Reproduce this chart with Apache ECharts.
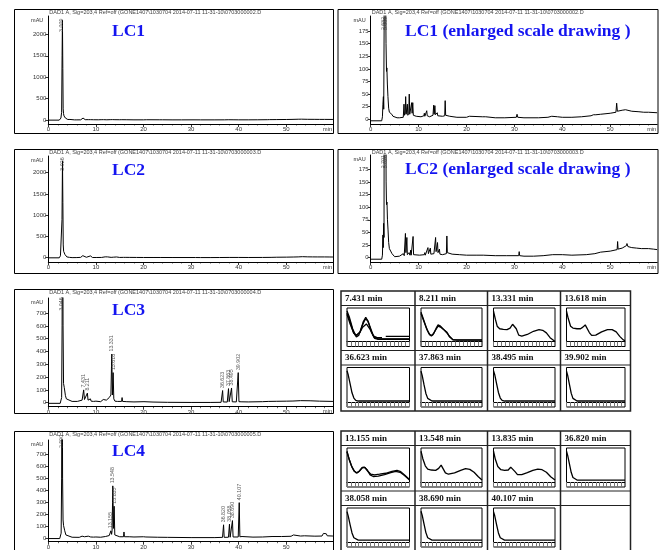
<!DOCTYPE html>
<html><head><meta charset="utf-8">
<script src="https://cdn.jsdelivr.net/npm/echarts@6/dist/echarts.min.js"></script>
<style>html,body{margin:0;padding:0;background:#fff}#c{width:663px;height:550px}</style>
</head><body><div id="c"></div>
<script>
// ---------- axis ticks ----------
const xTicks = [0,10,20,30,40,50];
const xMinorTicks = [2,4,6,8,12,14,16,18,22,24,26,28,32,34,36,38,42,44,46,48,52,54,56,58];
const yTicksFull = [0,500,1000,1500,2000];
const yTicksZoom = [0,25,50,75,100,125,150,175];
const yTicksLC = [0,100,200,300,400,500,600,700];
const thumbTicks = [0,6.25,12.5,18.75,25,31.25,37.5,43.75,50,56.25,62.5,68.75,75,81.25,87.5,93.75,100];
const xMax = 59.8;

// ---------- chromatograms (time min, mAU) ----------
const lc1 = [[0,-3],[2.3,-3],[2.45,5],[2.55,30],[2.65,45],[2.72,20],[2.8,180],[2.9,1500],[2.97,2330],[3.05,1200],[3.12,260],[3.2,150],[3.3,95],[3.38,102],[3.48,70],[3.6,45],[3.75,22],[3.9,14],[4.1,12],[4.4,10],[4.55,13],[4.65,6],[4.85,9],[4.95,4],[5.5,3],[6.0,3],[6.1,6],[6.2,2],[6.8,4],[6.95,30],[7.05,8],[7.2,12],[7.3,45],[7.4,10],[7.55,10],[7.65,30],[7.75,8],[7.95,12],[8.05,50],[8.15,10],[8.4,8],[8.55,33],[8.65,12],[8.78,33],[8.9,8],[9.5,6],[10.5,5],[11.1,7],[11.2,12],[11.3,6],[11.6,8],[11.7,17],[11.8,7],[12.3,5],[12.4,7],[12.5,5],[13.0,8],[13.15,28],[13.25,10],[13.4,27],[13.5,9],[13.8,8],[13.9,13],[14.0,7],[15.0,6],[15.45,7],[15.55,37],[15.65,8],[16.5,6],[16.6,8],[16.7,5],[18,4],[20,4],[20.6,6],[21,4],[23.3,5],[23.4,7],[23.5,4],[24,5],[26,3],[28,3],[30.4,4],[30.55,10],[30.7,4],[32,3],[35,3],[37,4],[37.8,6],[38,4],[39,5],[40,4],[42,4],[44,5],[46,7],[46.5,9],[47,9],[48,10],[50,12],[51.2,14],[51.35,32],[51.5,16],[52.5,18],[53.2,19],[54.5,16],[56,15],[57,14],[58,14],[59.8,13]];
const lc2 = [[0,-3],[2.3,-3],[2.45,5],[2.55,45],[2.62,20],[2.7,68],[2.78,40],[2.88,900],[2.98,2280],[3.06,1300],[3.14,300],[3.22,150],[3.3,105],[3.4,110],[3.5,75],[3.62,55],[3.75,30],[3.9,18],[4.1,15],[4.3,15],[4.45,8],[4.6,5],[5.0,2],[6.0,3],[6.15,6],[6.3,3],[6.8,8],[7.0,4],[7.25,48],[7.35,10],[7.55,40],[7.65,6],[8.0,10],[8.2,5],[8.35,15],[8.45,5],[8.85,42],[8.95,6],[9.3,4],[10.2,5],[11.2,6],[11.3,10],[11.4,5],[11.95,20],[12.05,8],[12.45,19],[12.55,7],[13.2,8],[13.55,40],[13.65,12],[13.95,30],[14.05,10],[14.35,17],[14.45,7],[15.0,6],[15.8,8],[15.9,43],[16.0,10],[16.3,8],[17,7],[18.5,6],[20,5],[22,5],[23.5,5],[23.6,8],[23.7,4],[26,4],[28.3,4],[28.4,7],[28.5,3],[30.9,4],[31.0,12],[31.1,4],[32,3],[34,3],[36,4],[38,6],[40,6],[42,5],[45,6],[46.8,8],[47,10],[48,11],[50,13],[51.45,16],[51.55,32],[51.65,17],[52.5,19],[53.4,24],[53.5,28],[53.7,22],[54.5,20],[55.5,19],[56.5,18],[58,18],[59,17],[59.8,16]];
const lc3 = [[0,-5],[2.5,-5],[2.65,5],[2.8,40],[2.9,600],[3.0,2000],[3.1,600],[3.2,150],[3.35,120],[3.45,110],[3.6,55],[3.8,30],[4.2,15],[5,10],[6.1,10],[6.25,15],[6.4,8],[7.1,20],[7.25,25],[7.43,100],[7.6,25],[7.9,15],[8.21,75],[8.35,20],[8.7,25],[8.85,30],[9.0,12],[9.5,10],[10,12],[11,8],[11.55,25],[11.7,12],[12.2,20],[12.5,15],[12.8,40],[13.0,50],[13.15,60],[13.33,380],[13.47,60],[13.62,235],[13.76,30],[14.0,12],[14.5,10],[15.4,10],[15.5,40],[15.6,10],[16.5,8],[18,6],[20.1,8],[20.3,20],[20.5,7],[22,5],[25,3],[30,2],[34,2],[36.3,3],[36.5,8],[36.62,95],[36.75,6],[37.6,5],[37.86,110],[38.0,8],[38.35,8],[38.5,115],[38.65,7],[39.5,6],[39.9,235],[40.05,8],[40.5,7],[42,6],[45,8],[46.2,10],[48,11],[50,12],[51.4,13],[51.5,26],[51.6,16],[53,16],[55,15],[57,12],[59.8,10]];
const lc4 = [[0,-5],[2.4,-5],[2.55,10],[2.7,40],[2.8,500],[2.9,2000],[3.0,500],[3.1,150],[3.2,105],[3.3,108],[3.45,60],[3.7,25],[4.0,15],[5,6],[6.5,5],[7.1,15],[7.2,30],[7.3,15],[7.5,30],[7.6,10],[8.0,10],[8.4,15],[8.5,8],[8.8,25],[8.9,8],[9.5,7],[10,8],[11,6],[12.0,12],[12.2,6],[12.8,20],[13.0,25],[13.15,60],[13.3,30],[13.4,60],[13.55,435],[13.7,80],[13.83,265],[13.97,25],[14.2,12],[15,10],[15.8,10],[15.9,50],[16.0,10],[17,10],[18,8],[20,10],[20.3,12],[20.5,8],[23,6],[25,5],[30,3],[35,3],[36.6,5],[36.82,110],[36.95,5],[37.85,6],[38.06,115],[38.2,6],[38.55,8],[38.69,145],[38.82,8],[39.9,8],[40.11,295],[40.25,10],[40.7,12],[41,8],[43,7],[45,8],[47,12],[49,12],[51,14],[51.4,14],[51.5,25],[51.6,16],[53,16],[53.8,18],[53.9,25],[54.0,16],[56,15],[57.5,16],[57.8,38],[58.2,40],[58.4,35],[58.6,18],[59.8,16]];

// peak labels [time, anchor mAU, text]
const lc1Labels = [[2.85,2000,'3.009']];
const lc1ZoomLabels = [[2.7,172,'2.682'],[3.05,172,'3.009']];
const lc2Labels = [[2.9,1990,'3.026']];
const lc2ZoomLabels = [[2.75,172,'2.701'],[3.1,172,'3.026']];
const lc3Labels = [[2.85,700,'3.046'],[7.43,100,'7.431'],[8.21,75,'8.211'],[13.33,380,'13.331'],[13.62,235,'13.618'],[36.62,95,'36.623'],[37.86,110,'37.863'],[38.5,115,'38.495'],[39.9,235,'39.902']];
const lc4Labels = [[2.8,730,'2.990'],[13.155,60,'13.155'],[13.548,435,'13.548'],[13.835,265,'13.835'],[36.82,110,'36.820'],[38.06,115,'38.058'],[38.69,145,'38.690'],[40.11,295,'40.107']];

// ---------- UV spectra thumbnails (relative wavelength 0-100, relative absorbance) ----------
const s7431a = [[0,96],[4,75],[9,40],[14,18],[17,15],[21,30],[26,62],[30,76],[34,62],[39,30],[44,10],[50,7],[100,7]];
const s7431b = [[0,90],[5,62],[10,30],[15,14],[19,20],[24,48],[29,70],[33,66],[38,40],[43,14],[50,8],[100,8]];
const s7431c = [[0,85],[5,55],[11,25],[16,20],[21,30],[25,45],[31,55],[37,38],[42,18],[48,12],[56,12]];
const s7431d = [[62,16],[100,16]];
const s8211a = [[0,92],[4,70],[9,42],[13,24],[17,17],[21,26],[25,42],[28,52],[32,48],[37,38],[42,30],[46,18],[52,6],[60,4],[100,4]];
const s8211b = [[0,88],[5,62],[10,36],[15,20],[19,20],[24,36],[28,48],[33,44],[38,36],[43,26],[47,14],[53,5],[100,5]];
const s13331 = [[0,95],[3,70],[6,48],[10,40],[16,38],[22,37],[27,42],[31,54],[34,56],[37,40],[41,20],[46,17],[55,22],[65,32],[74,37],[80,35],[86,27],[92,12],[98,3],[100,2]];
const s13618 = [[0,95],[3,72],[7,48],[11,42],[18,40],[24,40],[28,45],[32,52],[35,48],[39,28],[43,19],[50,20],[60,30],[70,37],[78,37],[85,30],[91,16],[97,5],[100,3]];
const s36623 = [[0,95],[2,82],[5,55],[8,28],[11,12],[14,5],[18,3],[100,3]];
const s37863 = [[0,94],[2,80],[5,52],[8,26],[11,11],[14,5],[18,3],[100,3]];
const s38495 = [[0,95],[2,83],[5,56],[8,29],[11,12],[14,5],[18,3],[100,3]];
const s39902 = [[0,94],[2,81],[5,54],[8,27],[11,11],[14,5],[18,3],[100,3]];
const s13155a = [[0,95],[3,72],[7,50],[11,35],[15,28],[19,32],[24,44],[28,46],[32,38],[37,22],[42,17],[50,18],[60,23],[70,29],[78,33],[85,30],[92,20],[100,6]];
const s13155b = [[0,93],[4,68],[8,46],[12,33],[16,28],[20,34],[25,45],[29,44],[33,34],[38,24],[44,22],[52,24],[62,27],[72,33],[80,36],[86,32],[93,20],[100,8]];
const s13548 = [[0,95],[3,72],[7,50],[11,40],[17,37],[24,36],[29,42],[33,52],[36,46],[40,28],[45,24],[55,28],[65,36],[73,41],[80,39],[87,30],[94,16],[100,6]];
const s13835 = [[0,95],[3,70],[7,48],[12,38],[18,36],[24,37],[28,46],[31,47],[35,32],[39,23],[46,23],[55,29],[64,36],[72,40],[79,38],[86,30],[93,16],[100,6]];
const s36820 = [[0,95],[2,82],[5,56],[8,30],[11,14],[14,8],[18,6],[100,6]];
const s38058 = [[0,94],[2,80],[5,53],[8,28],[11,13],[14,7],[18,6],[100,6]];
const s38690 = [[0,95],[2,82],[5,55],[8,29],[11,13],[14,7],[18,6],[100,6]];
const s40107 = [[0,94],[2,81],[5,54],[8,28],[11,13],[14,7],[18,6],[100,6]];

const lc3SpecTimes = ['7.431 min','8.211 min','13.331 min','13.618 min','36.623 min','37.863 min','38.495 min','39.902 min'];
const lc3SpecCurves = [[s7431a,s7431b,s7431c,s7431d],[s8211a,s8211b],[s13331],[s13618],[s36623],[s37863],[s38495],[s39902]];
const lc4SpecTimes = ['13.155 min','13.548 min','13.835 min','36.820 min','38.058 min','38.690 min','40.107 min'];
const lc4SpecCurves = [[s13155a,s13155b],[s13548],[s13835],[s36820],[s38058],[s38690],[s40107]];

// ---------- layout ----------
const fileBase = 'DAD1 A, Sig=203,4 Ref=off (GONE1407\\1030704 2014-07-11 11-31-10\\';
const panels = [
  {data:lc1, labels:lc1Labels, x0:48.3, px10:47.6, top:16, bottom:124, zeroY:120, ppu:21.4/500, yTicks:yTicksFull, frame:[14,9,333,133], file:'0703000002.D', big:'LC1', bigX:112, bigY:31},
  {data:lc1, labels:lc1ZoomLabels, x0:370.7, px10:47.9, top:16, bottom:124, zeroY:119.3, ppu:12.6/25, yTicks:yTicksZoom, frame:[337.5,9,657.5,133], file:'0703000002.D', big:'LC1 (enlarged scale drawing )', bigX:405, bigY:31},
  {data:lc2, labels:lc2Labels, x0:48.3, px10:47.6, top:156, bottom:262, zeroY:257.7, ppu:21.25/500, yTicks:yTicksFull, frame:[14,149,333,273], file:'0703000003.D', big:'LC2', bigX:112, bigY:170},
  {data:lc2, labels:lc2ZoomLabels, x0:370.7, px10:47.9, top:155, bottom:262, zeroY:257.7, ppu:12.63/25, yTicks:yTicksZoom, frame:[337.5,149,657.5,273], file:'0703000003.D', big:'LC2 (enlarged scale drawing )', bigX:405, bigY:169.5},
  {data:lc3, labels:lc3Labels, x0:48.3, px10:47.6, top:298, bottom:406.7, zeroY:402.7, ppu:12.8/100, yTicks:yTicksLC, frame:[14,289,333,413], file:'0703000004.D', big:'LC3', bigX:112, bigY:310},
  {data:lc4, labels:lc4Labels, x0:48.3, px10:47.6, top:440, bottom:548.7, zeroY:544.7, ppu:12.8/100, yTicks:yTicksLC, frame:[14,431,333,560], file:'0703000005.D', big:'LC4', bigX:112, bigY:451}
];
const tableCols = [341, 415, 487.5, 560.5, 630.5];
const tables = [
  {rows:[291,350.5,411], times:lc3SpecTimes, curves:lc3SpecCurves},
  {rows:[431,491,551], times:lc4SpecTimes, curves:lc4SpecCurves}
];

const option = {animation:false, backgroundColor:'#fff', grid:[], xAxis:[], yAxis:[], series:[], graphic:{elements:[]}};
const G = option.graphic.elements;
function addText(text, x, y, font, fill, align, valign){
  G.push({type:'text', silent:true, z:5, style:{text, x, y, font, fill, align:align||'left', verticalAlign:valign||'middle', textAlign:align||'left', textVerticalAlign:valign||'middle'}});
}
function addRect(x,y,w,h,lw,stroke){
  G.push({type:'rect', silent:true, shape:{x,y,width:w,height:h}, style:{fill:'none', stroke, lineWidth:lw}});
}
function addLine(x1,y1,x2,y2,lw,stroke){
  G.push({type:'line', silent:true, shape:{x1,y1,x2,y2}, style:{stroke, lineWidth:lw}});
}
const plain = v => String(v);

const smallFont = '5.5px "Liberation Sans", Arial, sans-serif';
panels.forEach(p => {
  const gi = option.grid.length;
  const width = p.px10 * xMax / 10;
  const ymin = -(p.bottom - p.zeroY) / p.ppu;
  const ymax = (p.zeroY - p.top) / p.ppu;
  option.grid.push({left:p.x0, top:p.top, width, height:p.bottom - p.top, show:false});
  const xi = option.xAxis.length;
  option.xAxis.push({type:'value', gridIndex:gi, min:0, max:xMax, position:'bottom',
    axisLine:{show:true, onZero:false, lineStyle:{color:'#000', width:1}},
    axisTick:{show:true, length:3, customValues:xTicks, lineStyle:{color:'#000', width:0.8}},
    axisLabel:{show:true, customValues:xTicks, formatter:plain, fontSize:6, color:'#333', margin:2.3, fontFamily:'Liberation Sans'},
    splitLine:{show:false}});
  option.xAxis.push({type:'value', gridIndex:gi, min:0, max:xMax, position:'bottom',
    axisLine:{show:false, onZero:false},
    axisTick:{show:true, length:1.5, customValues:xMinorTicks, lineStyle:{color:'#000', width:0.6}},
    axisLabel:{show:false}, splitLine:{show:false}});
  const yi = option.yAxis.length;
  option.yAxis.push({type:'value', gridIndex:gi, min:ymin, max:ymax, position:'left',
    axisLine:{show:true, onZero:false, lineStyle:{color:'#000', width:1}},
    axisTick:{show:true, length:3, customValues:p.yTicks, lineStyle:{color:'#000', width:0.8}},
    axisLabel:{show:true, customValues:p.yTicks, formatter:plain, fontSize:6, color:'#333', margin:2, fontFamily:'Liberation Sans'},
    splitLine:{show:false}});
  option.series.push({type:'line', xAxisIndex:xi, yAxisIndex:yi, data:p.data, showSymbol:false, symbol:'none',
    lineStyle:{color:'#000', width:1}, clip:true, silent:true, z:3});
  option.series.push({type:'scatter', xAxisIndex:xi, yAxisIndex:yi, symbolSize:1, itemStyle:{color:'rgba(0,0,0,0)'}, silent:true, clip:false, z:4,
    data:p.labels.map(l => ({value:[l[0], l[1]], name:l[2]})),
    label:{show:true, formatter:'{b}', rotate:90, position:'top', distance:2, align:'left', verticalAlign:'middle', fontSize:5.3, color:'#333', fontFamily:'Liberation Sans'},
    labelLayout:{hideOverlap:false}});
  addRect(p.frame[0]+0.5, p.frame[1]+0.5, p.frame[2]-p.frame[0], p.frame[3]-p.frame[1], 1, '#000');
  addText(fileBase + p.file, p.x0 + 1, p.frame[1] + 3.7, smallFont, '#444');
  addText('mAU', p.x0 - 5, p.top + 4, smallFont, '#333', 'right');
  addText('min', p.x0 + width - 1, p.bottom + 5, smallFont, '#333', 'right');
  addText(p.big, p.bigX, p.bigY, 'bold 17.5px "Liberation Serif", "Times New Roman", serif', '#1414f0');
});

// spectra tables
tables.forEach(t => {
  const [r0, r1, r2] = t.rows;
  const hh = 14.5;
  const L = tableCols[0], R = tableCols[4];
  addRect(L, r0, R - L, r2 - r0, 1.5, '#222');
  tableCols.slice(1, 4).forEach(c => addLine(c, r0, c, r2, 1.5, '#222'));
  addLine(L, r1, R, r1, 1.2, '#222');
  addLine(L, r0 + hh, R, r0 + hh, 1, '#222');
  addLine(L, r1 + hh, R, r1 + hh, 1, '#222');
  t.times.forEach((label, i) => {
    const col = i % 4, row = Math.floor(i / 4);
    const c0 = tableCols[col], c1 = tableCols[col + 1];
    const rt = row === 0 ? r0 : r1, rb = row === 0 ? r1 : r2;
    addText(label, c0 + 4, rt + 7.5, 'bold 9px "Liberation Serif", "Times New Roman", serif', '#111');
    const left = c0 + 6, width = (c1 - 5.5) - left;
    const top = rt + hh + 2.5, height = (rb - 4) - top;
    const gi = option.grid.length;
    option.grid.push({left, top, width, height, show:true, borderColor:'#000', borderWidth:1, backgroundColor:'transparent'});
    const ymax = 105, ymin = -5 * ymax / (height - 5);
    const xi = option.xAxis.length, yi = option.yAxis.length;
    option.xAxis.push({type:'value', gridIndex:gi, min:0, max:100,
      axisLine:{show:true, onZero:true, lineStyle:{color:'#000', width:1}},
      axisTick:{show:true, inside:false, length:5, customValues:thumbTicks, lineStyle:{color:'#777', width:1}},
      axisLabel:{show:false}, splitLine:{show:false}});
    option.yAxis.push({type:'value', gridIndex:gi, min:ymin, max:ymax,
      axisLine:{show:false}, axisTick:{show:false}, axisLabel:{show:false}, splitLine:{show:false}});
    t.curves[i].forEach(c => option.series.push({type:'line', xAxisIndex:xi, yAxisIndex:yi, data:c, showSymbol:false, symbol:'none',
      lineStyle:{color:'#000', width:1.3}, clip:true, silent:true, z:3}));
  });
});

const chart = echarts.init(document.getElementById('c'), null, {renderer:'canvas'});
chart.setOption(option);
</script>
</body></html>
